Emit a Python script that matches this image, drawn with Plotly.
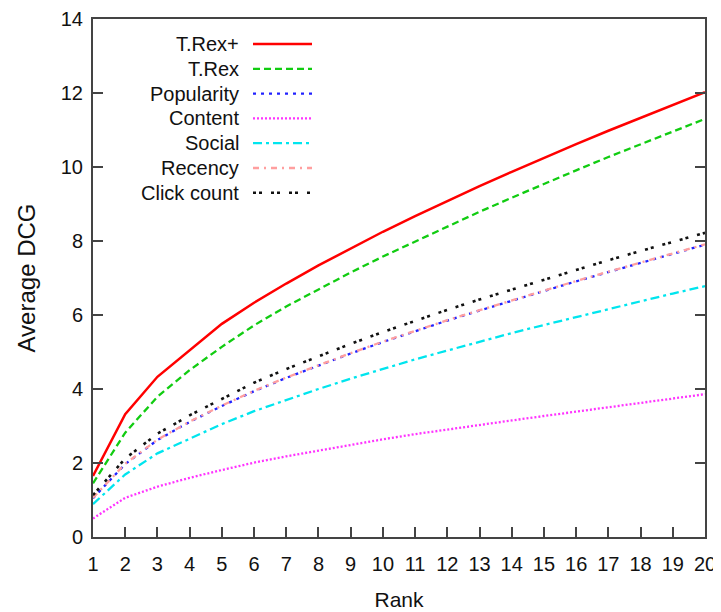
import plotly.graph_objects as go

ranks = list(range(1, 21))
names = ["T.Rex+", "T.Rex", "Popularity", "Content", "Social", "Recency", "Click count"]
trex_plus = [1.65, 3.32, 4.33, 5.05, 5.76, 6.33, 6.85, 7.34, 7.80, 8.25, 8.67, 9.08, 9.48, 9.87, 10.25, 10.62, 10.98, 11.33, 11.68, 12.02]
trex = [1.45, 2.82, 3.79, 4.51, 5.14, 5.72, 6.23, 6.70, 7.15, 7.58, 7.99, 8.40, 8.79, 9.17, 9.55, 9.91, 10.27, 10.62, 10.96, 11.30]
popularity = [1.05, 1.97, 2.62, 3.11, 3.54, 3.94, 4.30, 4.64, 4.96, 5.27, 5.57, 5.85, 6.12, 6.39, 6.65, 6.91, 7.16, 7.41, 7.66, 7.90]
content = [0.50, 1.06, 1.36, 1.60, 1.81, 2.01, 2.18, 2.34, 2.49, 2.64, 2.78, 2.91, 3.03, 3.15, 3.27, 3.39, 3.51, 3.62, 3.74, 3.86]
social = [0.89, 1.69, 2.26, 2.66, 3.05, 3.40, 3.71, 4.00, 4.28, 4.55, 4.80, 5.04, 5.28, 5.51, 5.73, 5.95, 6.16, 6.37, 6.58, 6.78]
recency = [1.06, 1.98, 2.63, 3.12, 3.55, 3.95, 4.31, 4.65, 4.97, 5.28, 5.58, 5.86, 6.13, 6.40, 6.66, 6.92, 7.17, 7.42, 7.67, 7.91]
click_count = [1.13, 2.12, 2.79, 3.29, 3.73, 4.17, 4.54, 4.89, 5.22, 5.54, 5.85, 6.14, 6.42, 6.69, 6.96, 7.22, 7.48, 7.73, 7.98, 8.22]

series = [trex_plus, trex, popularity, content, social, recency, click_count]
colors = ["#ff0000", "#11cc11", "#2222ff", "#ff33ff", "#00e5ee", "#ff9f9f", "#111111"]
dashes = ["solid", "7px,4px", "3px,5px", "2px,2px", "9px,4px,3px,4px", "6px,5px,2px,5px", "3px,3px,3px,9px"]
widths = [2.5, 2.3, 2.3, 2.3, 2.3, 2.3, 2.6]

FONT = "Liberation Sans, Arial, sans-serif"
fig = go.Figure()
for name, vals, c, d, w in zip(names, series, colors, dashes, widths):
    fig.add_trace(go.Scatter(x=ranks, y=vals, mode="lines", name=name,
                             line=dict(color=c, dash=d, width=w), showlegend=False))

# the page body has an 8px margin, so the figure is 8px smaller than the window
OFF = 8
W, H = 721 - OFF, 612 - OFF
L, R, T, B = 93 - OFF, 16, 19 - OFF, 75
pw, ph = W - L - R, H - T - B
def px(xp):
    return (xp - OFF - L) / pw
def py(yp):
    return (H - B - (yp - OFF)) / ph

# gnuplot-style key: right-aligned text, sample line to the right
row0, step = 44, 24.8
for i, (name, c, d, w) in enumerate(zip(names, colors, dashes, widths)):
    yp = row0 + i * step
    fig.add_annotation(x=px(241), y=py(yp), xref="paper", yref="paper", text=name,
                       showarrow=False, xanchor="right", yanchor="middle",
                       font=dict(family=FONT, size=20, color="#111111"))
    fig.add_shape(type="line", xref="paper", yref="paper", x0=px(253), x1=px(312),
                  y0=py(yp), y1=py(yp), line=dict(color=c, dash=d, width=w))

axis_common = dict(showgrid=False, zeroline=False, showline=True, linecolor="#444444",
                   linewidth=2, ticks="inside", tickcolor="#444444", tickwidth=1.5,
                   ticklen=10, ticklabeloverflow="allow",
                   tickfont=dict(family=FONT, size=20, color="#111111"))
fig.update_xaxes(range=[1, 20], tickmode="array", tickvals=ranks,
                 ticktext=[str(r) for r in ranks], mirror=True, ticklabelstandoff=8,
                 title=dict(text="Rank", font=dict(family=FONT, size=21, color="#111111"), standoff=18),
                 **axis_common)
fig.update_yaxes(range=[0, 14], tickmode="array", tickvals=list(range(0, 15, 2)),
                 mirror="ticks", ticklabelstandoff=4,
                 title=dict(text="Average DCG", font=dict(family=FONT, size=24, color="#111111"), standoff=18),
                 **axis_common)
fig.update_layout(width=W, height=H, margin=dict(l=L, r=R, t=T, b=B, autoexpand=False),
                  plot_bgcolor="white", paper_bgcolor="white", showlegend=False)
fig.write_html("out.html")
